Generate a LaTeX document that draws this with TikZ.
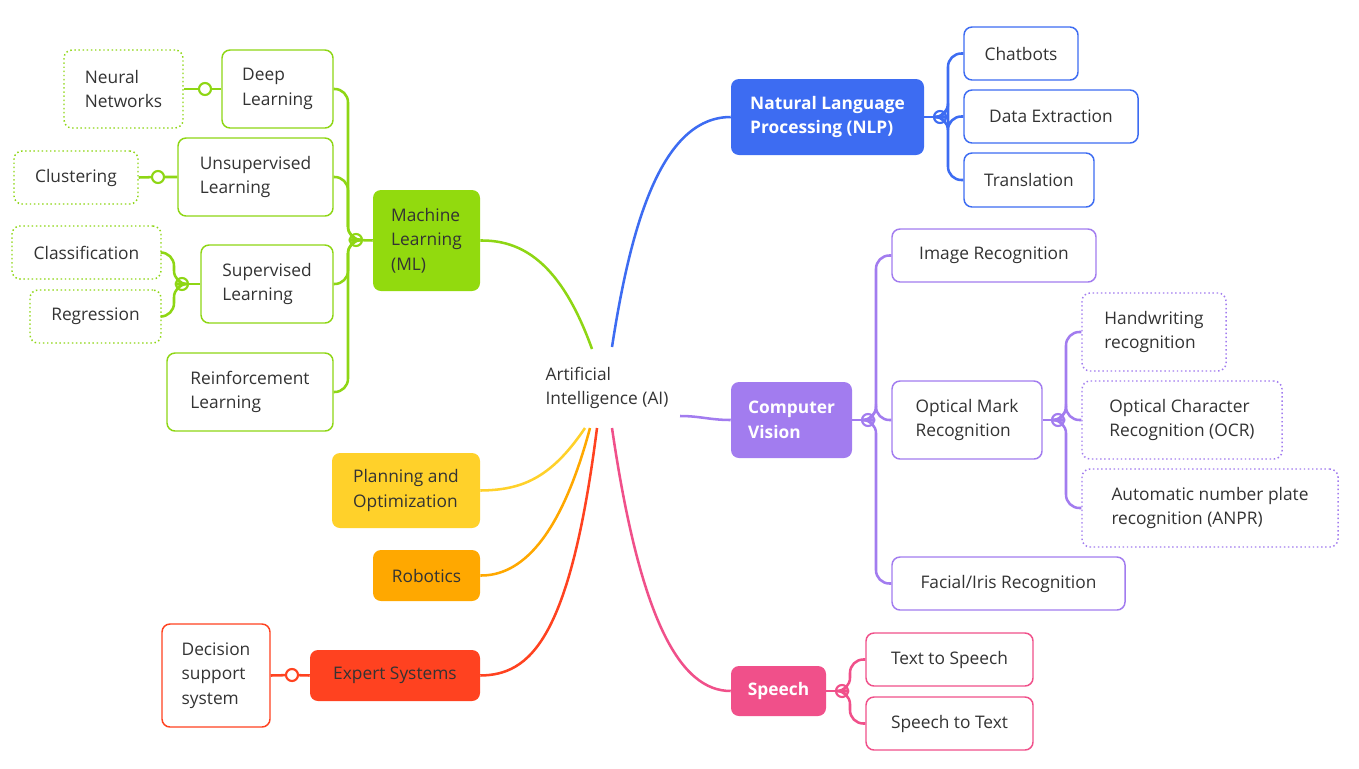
\documentclass[tikz,border=0pt]{standalone}
\usepackage{fontspec}
\setmainfont{Open Sans}
\begin{document}
\definecolor{tx}{HTML}{333333}
\definecolor{cb}{HTML}{3D6CF2}
\definecolor{cp}{HTML}{A27CEF}
\definecolor{cs}{HTML}{F0508A}
\definecolor{cg}{HTML}{8ED614}
\definecolor{cgf}{HTML}{92DA0E}
\definecolor{cy}{HTML}{FFD12A}
\definecolor{co}{HTML}{FFA800}
\definecolor{cr}{HTML}{FF4220}
\newcommand\bx[7]{\node[#6,minimum width={(#4-#2)*0.75pt},minimum height={(#5-#3)*0.75pt}] (#1) at ({(#2+#4)/2},{(#3+#5)/2}) {#7};}
\begin{tikzpicture}[x=0.75pt,y=-0.75pt,
 every node/.style={font=\fontsize{13}{18.5}\selectfont,text=tx,align=left,inner sep=0pt},
 b/.style={draw=#1,line width=1.1pt,rounded corners=6pt,fill=white},
 d/.style={b=#1,dotted},
 f/.style={fill=#1,rounded corners=6pt,text=white,font=\fontsize{13}{18.5}\selectfont\bfseries},
 fd/.style={fill=#1,rounded corners=6pt},
 ln/.style={draw=#1,line width=1.9pt},
 sp/.style={draw=#1,line width=1.9pt,rounded corners=10pt},
 dot/.style={circle,draw=#1,line width=1.6pt,fill=white,minimum size=9pt}]
\useasboundingbox (0,0) rectangle (1359,768);
\node (ai) at (607,388) {Artificial\\Intelligence (AI)};
% right side
\bx{nlp}{731}{79}{924}{155}{f=cb}{Natural Language\\Processing (NLP)}
\bx{chat}{964}{27}{1078}{80}{b=cb}{Chatbots}
\bx{data}{964}{90}{1138}{143}{b=cb}{Data Extraction}
\bx{trans}{964}{153}{1094}{207}{b=cb}{Translation}
\bx{cv}{731}{382}{852}{458}{f=cp}{Computer\\Vision}
\bx{img}{892}{229}{1096}{282}{b=cp}{Image Recognition}
\bx{omr}{892}{381}{1042}{459}{b=cp}{Optical Mark\\Recognition}
\bx{hw}{1082}{293}{1226}{371}{d=cp}{Handwriting\\recognition}
\bx{ocr}{1082}{381}{1282}{459}{d=cp}{Optical Character\\Recognition (OCR)}
\bx{anpr}{1082}{469}{1338}{547}{d=cp}{Automatic number plate\\recognition (ANPR)}
\bx{face}{892}{557}{1125}{610}{b=cp}{Facial/Iris Recognition}
\bx{sp}{731}{666}{826}{716}{f=cs}{Speech}
\bx{tts}{866}{633}{1033}{686}{b=cs}{Text to Speech}
\bx{stt}{866}{697}{1033}{750}{b=cs}{Speech to Text}
% left side
\bx{ml}{373}{190}{480}{291}{fd=cgf}{Machine\\Learning\\(ML)}
\bx{dl}{222}{50}{333}{128}{b=cg}{Deep\\Learning}
\bx{nn}{64}{50}{183}{128}{d=cg}{Neural\\Networks}
\bx{ul}{178}{138}{333}{216}{b=cg}{Unsupervised\\Learning}
\bx{cl}{14}{151}{138}{204}{d=cg}{Clustering}
\bx{sl}{201}{245}{333}{323}{b=cg}{Supervised\\Learning}
\bx{cls}{12}{226}{161}{279}{d=cg}{Classification}
\bx{reg}{30}{290}{161}{343}{d=cg}{Regression}
\bx{rl}{167}{353}{333}{431}{b=cg}{Reinforcement\\Learning}
\bx{plan}{332}{453}{480}{528}{fd=cy}{Planning and\\Optimization}
\bx{rob}{373}{550}{480}{601}{fd=co}{Robotics}
\bx{exp}{310}{650}{480}{701}{fd=cr}{Expert Systems}
\bx{dss}{162}{624}{270}{727}{b=cr}{Decision\\support\\system}
% main connectors
\coordinate (a1) at (612,347); \coordinate (a2) at (592,349);
\coordinate (a3) at (680,416); \coordinate (a4) at (585,428);
\coordinate (a5) at (590,428); \coordinate (a6) at (597,428); \coordinate (a7) at (612,428);
\draw[ln=cb] (a1) .. controls (630,230) and (660,117) .. (nlp.west);
\draw[ln=cp] (a3) .. controls (700,416) and (710,420) .. (cv.west);
\draw[ln=cs] (a7) .. controls (640,620) and (680,691) .. (sp.west);
\draw[ln=cg] (a2) .. controls (560,260) and (520,240) .. (ml.east);
\draw[ln=cy] (a4) .. controls (550,480) and (520,490) .. (plan.east);
\draw[ln=co] (a5) .. controls (560,540) and (520,576) .. (rob.east);
\draw[ln=cr] (a6) .. controls (570,640) and (530,675) .. (exp.east);
% NLP
\node[dot=cb] (dn) at (940,117) {};
\draw[ln=cb] (nlp.east) -- (dn);
\foreach \c in {chat,data,trans} \draw[sp=cb] (dn.east) -- (948,117) |- (\c.west);
% CV
\node[dot=cp] (dc) at (868,420) {};
\draw[ln=cp] (cv.east) -- (dc);
\foreach \c in {img,omr,face} \draw[sp=cp] (dc.east) -- (876,420) |- (\c.west);
\node[dot=cp] (do) at (1058,420) {};
\draw[ln=cp] (omr.east) -- (do);
\foreach \c in {hw,ocr,anpr} \draw[sp=cp] (do.east) -- (1066,420) |- (\c.west);
% Speech
\node[dot=cs] (ds) at (842,691) {};
\draw[ln=cs] (sp.east) -- (ds);
\foreach \c in {tts,stt} \draw[sp=cs] (ds.east) -- (850,691) |- (\c.west);
% ML
\node[dot=cg] (dm) at (356,240) {};
\draw[ln=cg] (ml.west) -- (dm);
\foreach \c in {dl,ul,sl,rl} \draw[sp=cg] (dm.west) -- (348,240) |- (\c.east);
\node[dot=cg] (dd) at (205,89) {};
\draw[ln=cg] (dl.west) -- (dd) -- (nn.east);
\node[dot=cg] (du) at (158,177) {};
\draw[ln=cg] (ul.west) -- (du) -- (cl.east);
\node[dot=cg] (dsl) at (182,284) {};
\draw[ln=cg] (sl.west) -- (dsl);
\foreach \c in {cls,reg} \draw[sp=cg] (dsl.west) -- (174,284) |- (\c.east);
% Expert
\node[dot=cr] (de) at (292,675) {};
\draw[ln=cr] (exp.west) -- (de) -- (dss.east);
\end{tikzpicture}
\end{document}
